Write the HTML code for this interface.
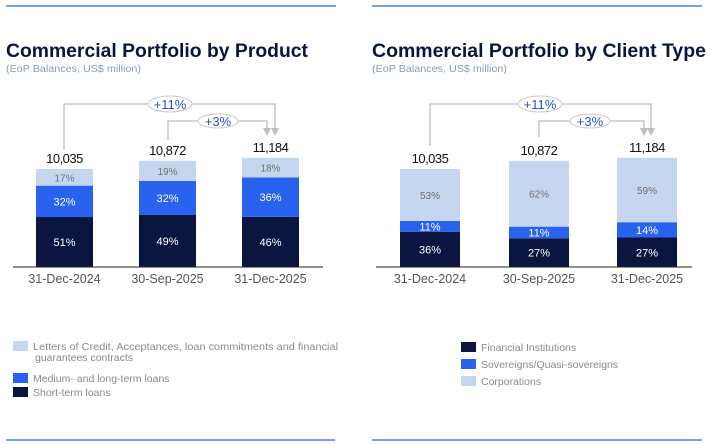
<!DOCTYPE html>
<html><head><meta charset="utf-8"><style>
body{margin:0;background:#fff}
svg{display:block;font-family:"Liberation Sans",Arial,sans-serif}
</style></head><body>
<svg id="c" width="714" height="444" viewBox="0 0 714 444">
<line x1="6" y1="6" x2="336" y2="6" stroke="#2a62f0" stroke-width="1.2"/>
<line x1="372" y1="6" x2="702" y2="6" stroke="#2a62f0" stroke-width="1.2"/>
<line x1="6" y1="440" x2="335" y2="440" stroke="#2a62f0" stroke-width="1.2"/>
<line x1="372" y1="440" x2="702" y2="440" stroke="#2a62f0" stroke-width="1.2"/>
<text x="6" y="57" font-size="19" font-weight="bold" fill="#0a1640" textLength="302" lengthAdjust="spacingAndGlyphs">Commercial Portfolio by Product</text>
<text x="6" y="72" font-size="10.5" fill="#8a9bb5" textLength="135" lengthAdjust="spacingAndGlyphs">(EoP Balances, US$ million)</text>
<text x="372" y="57" font-size="19" font-weight="bold" fill="#0a1640" textLength="334" lengthAdjust="spacingAndGlyphs">Commercial Portfolio by Client Type</text>
<text x="372" y="72" font-size="10.5" fill="#8a9bb5" textLength="135" lengthAdjust="spacingAndGlyphs">(EoP Balances, US$ million)</text>
<g id="left"></g>
<g id="right"></g>
<g id="ann"></g>
<g id="leg"></g>
</svg>
<script>
const categories = ["31-Dec-2024","30-Sep-2025","31-Dec-2025"];
const totals = [10035,10872,11184];
const totalLabels = ["10,035","10,872","11,184"];
// product chart (bottom to top)
const shortTerm = [51,49,46];
const mediumLong = [32,32,36];
const lettersCredit = [17,19,18];
// client chart (bottom to top)
const financialInst = [36,27,27];
const sovereigns = [11,11,14];
const corporations = [53,62,59];
const growthLabels = ["+11%","+3%"];

const NS="http://www.w3.org/2000/svg";
function el(tag,attrs,parent,txt){const e=document.createElementNS(NS,tag);for(const k in attrs)e.setAttribute(k,attrs[k]);if(txt!==undefined)e.textContent=txt;parent.appendChild(e);return e;}
const baseY=267, pxPerUnit=98/10035;
function yScale(v){return baseY - v*pxPerUnit;}
const DARK="#0a1640", BLUE="#2a62f0", LIGHT="#c5d7f0";

function drawChart(g, barX, barW, series, colors, names, axisX1, axisX2){
  const lbl=[["#fff",11],["#fff",11],["#707070",10]];
  categories.forEach((cat,i)=>{
    let cum=0;
    series.forEach((s,j)=>{
      const y0=yScale(totals[i]*cum/100), y1=yScale(totals[i]*(cum+s[i])/100);
      const r=el('rect',{x:barX[i],y:y1,width:barW,height:y0-y1,fill:colors[j]},g);
      
      
      const t=el('text',{x:barX[i]+barW/2,y:(y0+y1)/2+4,'font-size':lbl[j][1],fill:lbl[j][0],'text-anchor':'middle'},g,s[i]+'%');
      
      
      cum+=s[i];
    });
    const tt=el('text',{x:barX[i]+barW/2,y:yScale(totals[i])-6,'font-size':13,fill:'#111','text-anchor':'middle','letter-spacing':'-0.5'},g,totalLabels[i]);
    
    
    const ct=el('text',{x:barX[i]+barW/2,y:283,'font-size':12.5,fill:'#555','text-anchor':'middle'},g,cat);
    
    
  });
  const ax=el('line',{x1:axisX1,y1:baseY,x2:axisX2,y2:baseY,stroke:'#222','stroke-width':1},g);
  
  
}
drawChart(document.getElementById('left'),[36,139,242],57,[shortTerm,mediumLong,lettersCredit],[DARK,BLUE,LIGHT],['short-term','medium-long','letters-credit'],13,323);
drawChart(document.getElementById('right'),[400,509,617],60,[financialInst,sovereigns,corporations],[DARK,BLUE,LIGHT],['financial-inst','sovereigns','corporations'],376,692);

const ann=document.getElementById('ann');
function arrow(xs, yTop, xe, ye, cx, rx, ry, label, name){
  el('polyline',{points:`${xs},${ye} ${xs},${yTop} ${xe},${yTop} ${xe},${128}`,fill:'none',stroke:'#bdbdbd','stroke-width':1.3},ann);
  el('polygon',{points:`${xe-4},${128} ${xe+4},${128} ${xe},${136}`,fill:'#bdbdbd'},ann);
  el('ellipse',{cx:cx,cy:yTop,rx:rx,ry:ry,fill:'#fff',stroke:'#c8c8c8','stroke-width':1},ann);
  const t=el('text',{x:cx,y:yTop+5,'font-size':13,fill:'#2a4fc8','text-anchor':'middle'},ann,label);
  
  
}
arrow(64,104,275,150,170,22,8,growthLabels[0],'growth-11-left');
arrow(168,121,267,140,218,20,7,growthLabels[1],'growth-3-left');
arrow(430,104,651,146,540,22,8,growthLabels[0],'growth-11-right');
arrow(539,121,644,137,590,20,7,growthLabels[1],'growth-3-right');

const leg=document.getElementById('leg');
function legItem(x,y,color,lines,name,tl){
  const r=el('rect',{x:x,y:y,width:15,height:10,fill:color},leg);
  
  
  lines.forEach((l,k)=>{
    const a={x:x+20+(k?2:0),y:y+9+k*11,'font-size':10.5,fill:'#8a8a8a'};
    if(tl&&k===0){a.textLength=tl;a.lengthAdjust='spacingAndGlyphs';}
    const t=el('text',a,leg,l);
    
    
  });
}
legItem(13,341,LIGHT,["Letters of Credit, Acceptances, loan commitments and financial","guarantees contracts"],'letters-credit',305);
legItem(13,373,BLUE,["Medium- and long-term loans"],'medium-long');
legItem(13,387,DARK,["Short-term loans"],'short-term');
legItem(461,342,DARK,["Financial Institutions"],'financial-inst');
legItem(461,359,BLUE,["Sovereigns/Quasi-sovereigns"],'sovereigns');
legItem(461,376,LIGHT,["Corporations"],'corporations');
</script>
</body></html>
